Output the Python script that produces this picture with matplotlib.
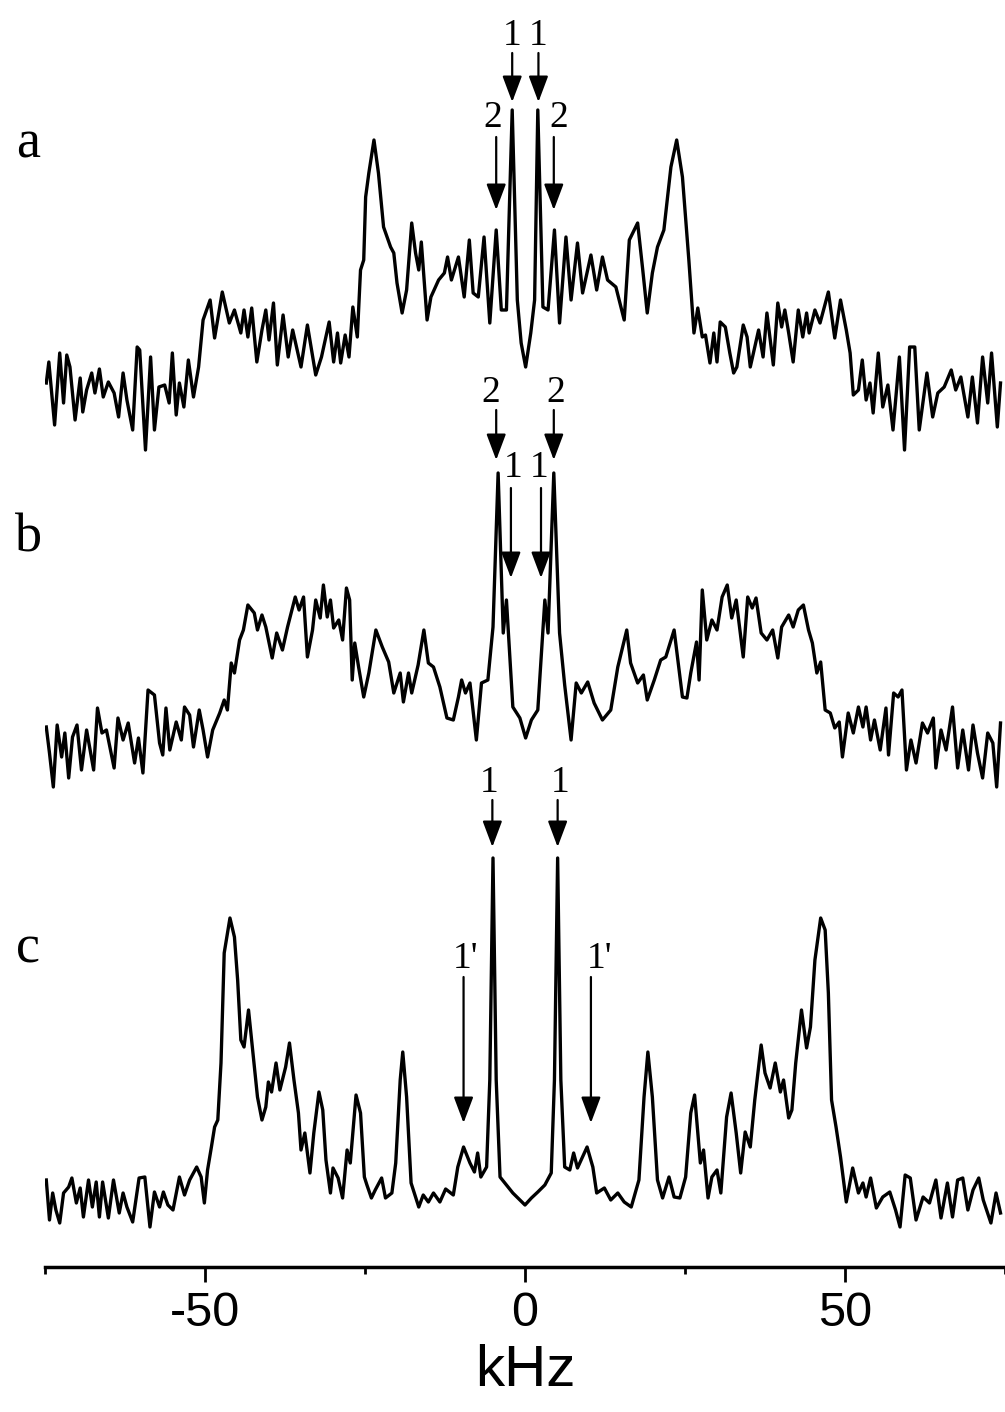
import matplotlib
matplotlib.use('Agg')
import matplotlib.pyplot as plt

# spectrum a
a_khz = [-74.8, -74.4, -73.5, -72.7, -72.1, -71.6, -71.1, -70.3, -69.5, -69.1, -68.5, -67.7, -67.2, -66.5,
         -65.9, -65.1, -64.2, -63.5, -62.8, -62.2, -61.3, -60.6, -60.2, -59.3, -58.5, -57.9, -57.2, -56.3,
         -55.6, -55.1, -54.5, -54.0, -53.3, -52.6, -51.8, -51.0, -50.3, -49.2, -48.5, -47.3, -46.2, -45.4,
         -44.4, -43.9, -43.3, -42.7, -41.9, -41.1, -40.5, -40.0, -39.3, -38.7, -37.8, -37.0, -36.3, -35.7,
         -35.0, -34.0, -32.7, -31.8, -30.6, -29.9, -29.3, -28.8, -28.1, -27.5, -26.9, -26.2, -25.7, -25.2,
         -24.9, -24.4, -23.6, -22.9, -22.1, -21.0, -20.5, -20.0, -19.2, -18.5, -17.7, -17.1, -16.6, -16.2,
         -15.3, -14.7, -13.5, -12.6, -12.1, -11.5, -10.4, -9.5, -8.7, -8.1, -7.3, -6.4, -5.5, -4.5, -3.7,
         -2.9, -2.0, -1.2, -0.6, 0.1, 0.9, 1.5, 2.0, 2.8, 3.6, 4.6, 5.4, 6.4, 7.2, 8.2, 9.0, 10.3, 11.2,
         12.1, 12.9, 14.2, 15.5, 16.3, 17.6, 18.4, 19.1, 19.9, 20.7, 21.7, 22.8, 23.7, 24.6, 25.6, 26.4,
         27.0, 27.7, 28.2, 28.9, 29.5, 30.0, 30.5, 31.3, 32.0, 32.6, 33.1, 34.1, 34.7, 35.2, 36.5, 37.2,
         37.8, 38.8, 39.5, 40.1, 40.6, 41.2, 41.9, 42.7, 43.4, 44.0, 44.4, 45.3, 46.1, 47.4, 48.4, 49.3,
         50.2, 50.8, 51.3, 52.1, 52.7, 53.3, 53.9, 54.4, 55.2, 55.9, 56.7, 57.5, 58.5, 59.3, 60.1, 60.9,
         61.6, 62.8, 63.7, 64.5, 65.5, 66.6, 67.3, 68.1, 69.2, 69.9, 70.7, 71.5, 72.3, 72.9, 73.8, 74.3]
a_int = [17, 38, -25, 47, -3, 45, 33, -20, 22, -12, 10, 27, 7, 31,
         3, 18, 7, -17, 27, 0, -30, 53, 50, -50, 43, -30, 13, 15,
         -3, 47, -15, 17, -7, 40, 3, 33, 80, 100, 62, 108, 77, 90,
         67, 90, 63, 92, 38, 70, 90, 60, 97, 35, 85, 43, 70, 53,
         33, 75, 25, 43, 78, 38, 67, 37, 65, 43, 93, 63, 130, 140,
         203, 227, 260, 227, 173, 153, 147, 117, 87, 110, 177, 147, 130, 158,
         80, 103, 120, 127, 143, 120, 143, 103, 160, 107, 103, 163, 77, 170, 90,
         90, 290, 100, 57, 33, 67, 100, 290, 93, 90, 170, 77, 163, 100, 157, 107, 145, 110,
         143, 120, 113, 80, 160, 177, 130, 87, 127, 153, 170, 233, 260, 223, 140, 67,
         92, 63, 65, 37, 67, 38, 78, 73, 47, 27, 33, 75, 63, 33, 70, 43,
         87, 35, 97, 73, 90, 67, 38, 90, 63, 87, 67, 90, 77, 108, 62, 100,
         70, 47, 5, 10, 40, 0, 17, -13, 47, -7, 15, -30, 43, -50, 53, 53,
         -30, 27, -17, 7, 13, 30, 10, 23, -17, 23, -23, 43, -3, 47, -27, 17]

# spectrum b
b_khz = [-74.8, -74.3, -73.7, -73.1, -72.4, -71.9, -71.3, -70.7, -70.0, -69.3, -68.5, -67.4, -66.8, -66.1,
         -65.4, -64.2, -63.6, -62.8, -62.0, -61.0, -60.4, -59.7, -58.9, -57.9, -57.1, -56.6, -56.1, -55.5,
         -54.5, -53.7, -53.2, -52.4, -51.8, -50.9, -50.3, -49.6, -48.8, -47.7, -47.0, -46.5, -45.9, -45.4,
         -44.6, -44.0, -43.3, -42.3, -41.8, -41.1, -40.5, -39.5, -38.8, -37.9, -37.1, -35.9, -35.3, -34.6,
         -34.0, -33.2, -32.7, -32.0, -31.5, -30.9, -30.4, -29.9, -29.1, -28.5, -27.9, -27.4, -27.0, -26.6,
         -26.0, -25.2, -24.4, -23.3, -22.3, -21.3, -20.5, -19.5, -19.0, -18.2, -17.7, -16.7, -15.8, -15.1,
         -14.3, -13.3, -12.2, -11.2, -10.4, -9.9, -9.3, -8.6, -7.6, -6.8, -5.8, -5.0, -4.2, -3.4, -2.9,
         -1.9, -0.8, 0.1, 1.0, 2.0, 3.1, 3.6, 4.5, 5.4, 6.2, 7.2, 8.0, 8.8, 9.8, 10.8, 12.1, 13.4, 14.5,
         15.9, 16.5, 17.6, 18.5, 19.1, 20.2, 21.2, 22.0, 23.3, 24.6, 25.3, 25.9, 26.8, 27.2, 27.7, 28.4,
         29.2, 30.0, 30.8, 31.6, 32.3, 33.0, 34.1, 34.8, 35.5, 36.1, 36.9, 37.8, 38.7, 39.5, 40.1, 41.2,
         41.9, 42.7, 43.5, 44.3, 44.9, 45.6, 46.2, 46.9, 47.7, 48.4, 49.1, 49.6, 50.5, 51.3, 52.1, 52.8,
         53.3, 54.0, 54.6, 55.5, 56.4, 56.8, 57.6, 58.3, 58.9, 59.6, 60.3, 61.1, 62.1, 62.9, 63.8, 64.2,
         65.0, 65.8, 66.8, 67.6, 68.4, 69.3, 70.0, 70.7, 71.5, 72.3, 73.1, 73.7, 74.3]
b_int = [23, -3, -37, 25, -7, 17, -28, 13, 25, -20, 20, -20, 42, 17,
         20, -18, 32, 10, 27, -13, 12, -23, 60, 55, 7, -5, 42, 0,
         28, 10, 43, 35, 3, 40, 20, -7, 20, 37, 50, 40, 87, 77,
         110, 120, 145, 137, 120, 135, 123, 92, 117, 100, 123, 153, 140, 153,
         93, 120, 150, 132, 165, 133, 150, 122, 130, 110, 162, 150, 70, 107,
         83, 53, 77, 120, 103, 88, 57, 77, 48, 77, 57, 85, 120, 87,
         83, 63, 32, 30, 53, 70, 57, 67, 10, 67, 70, 123, 277, 117, 150,
         43, 32, 12, 30, 40, 150, 117, 277, 117, 65, 10, 67, 57, 68, 47, 30, 40, 83,
         120, 87, 67, 75, 50, 70, 90, 93, 120, 53, 52, 77, 108, 70, 160, 110,
         130, 120, 153, 165, 132, 150, 93, 153, 142, 152, 117, 110, 120, 92, 123, 135,
         123, 140, 145, 120, 107, 77, 88, 40, 37, 22, 28, -7, 37, 17, 43, 23,
         43, 10, 30, 0, 42, -5, 57, 53, 60, -20, 10, -13, 27, 17, 32, -18,
         20, 0, 43, -18, 20, -20, 25, -3, -28, 17, 7, -37, 27]

# spectrum c
c_khz = [-74.8, -74.3, -73.8, -73.3, -72.7, -72.1, -71.3, -70.8, -70.1, -69.5, -69.0, -68.2, -67.6, -67.0,
         -66.5, -66.0, -65.1, -64.3, -63.4, -62.8, -62.2, -61.3, -60.3, -59.4, -58.6, -57.9, -57.1, -56.5,
         -55.8, -55.0, -54.0, -53.2, -52.4, -51.3, -50.6, -50.1, -49.6, -49.0, -48.5, -48.0, -47.5, -47.0,
         -46.1, -45.4, -44.9, -44.4, -43.9, -43.2, -42.6, -41.8, -41.1, -40.5, -40.1, -39.6, -38.9, -38.3,
         -37.4, -36.8, -36.1, -35.4, -35.0, -34.4, -33.6, -33.0, -32.2, -31.6, -31.1, -30.4, -30.0, -29.2,
         -28.5, -27.8, -27.3, -26.4, -25.7, -25.1, -24.7, -24.0, -23.4, -22.4, -21.8, -20.8, -20.2, -19.5,
         -19.1, -18.5, -17.8, -16.6, -15.9, -15.1, -14.3, -13.3, -12.4, -11.2, -10.5, -9.6, -8.6, -7.9,
         -7.4, -6.9, -6.0, -5.5, -5.0, -4.5, -3.9, -2.9, -1.9, -0.8, 0.0, 1.0, 2.0, 3.1, 4.1, 4.6, 5.1,
         5.6, 6.2, 7.0, 7.6, 8.2, 9.7, 10.6, 11.2, 12.4, 13.4, 14.5, 15.5, 16.6, 17.8, 18.6, 19.2, 19.9,
         20.7, 21.5, 22.5, 23.3, 24.2, 25.1, 25.9, 26.5, 27.4, 27.9, 28.6, 29.2, 30.0, 30.6, 31.5, 32.2,
         33.0, 33.7, 34.4, 35.2, 35.9, 36.9, 37.5, 38.3, 39.1, 39.9, 40.4, 41.2, 41.7, 42.3, 43.2, 44.0,
         44.6, 45.3, 46.2, 46.9, 47.4, 47.9, 48.6, 49.3, 50.2, 51.2, 52.1, 52.8, 53.3, 54.0, 54.9, 55.9,
         57.0, 57.9, 58.6, 59.4, 60.2, 61.1, 62.2, 63.2, 64.2, 65.0, 66.0, 66.8, 67.6, 68.4, 69.2, 70.0,
         70.9, 71.6, 72.8, 73.6, 74.3]
c_int = [30, -10, 17, 0, -13, 17, 23, 32, 7, 22, -7, 30, 3, 28,
         -7, 28, -8, 30, -3, 17, 3, -12, 32, 33, -17, 18, 3, 18,
         5, 0, 33, 15, 30, 43, 33, 7, 40, 63, 83, 90, 147, 257,
         292, 273, 230, 170, 163, 200, 163, 113, 90, 103, 128, 118, 147, 120,
         143, 167, 130, 97, 60, 77, 37, 77, 118, 100, 50, 17, 42, 32,
         12, 60, 47, 115, 97, 33, 25, 12, 20, 32, 12, 17, 47, 130,
         158, 113, 27, 3, 15, 8, 17, 8, 21, 15, 43, 63, 47, 38,
         57, 33, 43, 130, 352, 130, 33, 25, 17, 10, 5, 12, 18, 25, 37, 130, 352,
         130, 43, 40, 57, 42, 63, 43, 17, 22, 10, 17, 8, 3, 30, 113, 158, 113,
         30, 12, 33, 13, 12, 33, 97, 115, 47, 60, 12, 33, 40, 17, 93, 117,
         77, 37, 78, 63, 110, 165, 137, 122, 147, 118, 130, 92, 100, 147, 200, 162,
         183, 250, 292, 280, 217, 110, 83, 53, 8, 42, 17, 27, 13, 32, 2, 13,
         18, 0, -17, 35, 32, -10, 13, 7, 30, -8, 27, -7, 30, 32, 0, 20,
         32, 10, -13, 17, -3]

spectra = [(a_khz, a_int), (b_khz, b_int), (c_khz, c_int)]
offsets = [867, 517, 57]
names = ['a', 'b', 'c']

# arrows: (x kHz, tail y, tip y, label, label x, label y)
arrows = [(-2.0, 1214, 1165, '1', -2.0, 1222), (2.1, 1214, 1165, '1', 2.1, 1222),
          (-4.5, 1130, 1057, '2', -5.0, 1140), (4.5, 1130, 1057, '2', 5.2, 1140),
          (-4.5, 857, 807, '2', -5.3, 865), (4.5, 857, 807, '2', 4.8, 865),
          (-2.2, 779, 689, '1', -1.9, 790), (2.5, 779, 689, '1', 2.2, 790),
          (-5.1, 467, 420, '1', -5.6, 475), (5.1, 467, 420, '1', 5.5, 475),
          (-9.6, 290, 144, "1'", -9.3, 299), (10.3, 290, 144, "1'", 11.7, 299)]

serif = ['Liberation Serif', 'DejaVu Serif']
sans = ['Liberation Sans', 'DejaVu Sans']

fig = plt.figure(figsize=(10.05, 14.12), dpi=100)
ax = fig.add_axes([45/1005, 145/1412, 960/1005, 1267/1412])

for (xs, ys), off in zip(spectra, offsets):
    ax.plot(xs, [v + off for v in ys], color='k', lw=2.4, solid_joinstyle='round')

for x, tail, tip, lab, lx, ly in arrows:
    ax.annotate('', xy=(x, tip), xytext=(x, tail),
                arrowprops=dict(arrowstyle='-|>,head_length=0.8,head_width=0.3',
                                mutation_scale=20, lw=1.6, color='k', shrinkA=0, shrinkB=0))
    ax.text(x=lx, y=ly, s=lab, ha='center', va='baseline', fontsize=27, family=serif)

for name, yy in zip(names, [0.8888, 0.6091, 0.3180]):
    fig.text(0.028, yy, name, ha='center', va='baseline', fontsize=39, family=serif)

ax.set_xlim(-75, 74.34)
ax.set_ylim(0, 1267)
for s in ['left', 'right', 'top']:
    ax.spines[s].set_visible(False)
ax.spines['bottom'].set_linewidth(2.5)
ax.set_yticks([])
ax.set_xticks([-50, 0, 50])
ax.set_xticklabels(['-50', '0', '50'], family=sans)
ax.set_xticks([-75, -25, 25, 75], minor=True)
ax.tick_params(axis='x', which='major', length=11, width=2, labelsize=35, pad=6)
ax.tick_params(axis='x', which='minor', length=5, width=2)
ax.set_xlabel('kHz', fontsize=42, family=sans, labelpad=6)

fig.savefig('out.png', dpi=100)
